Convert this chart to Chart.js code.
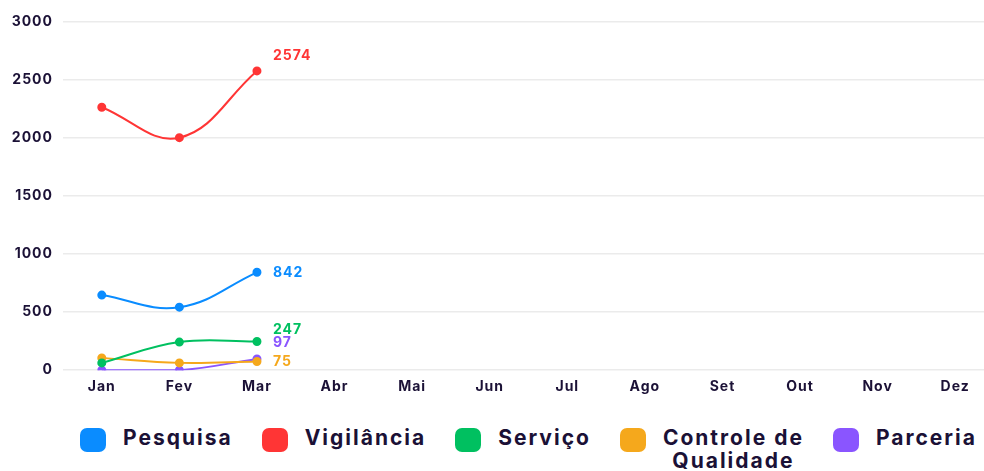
<!DOCTYPE html>
<html>
<head>
<meta charset="utf-8">
<script src="https://cdn.jsdelivr.net/npm/chart.js@4/dist/chart.umd.min.js"></script>
<style>
  html, body { margin: 0; padding: 0; background: #fff; overflow: hidden; width: 984px; height: 471px; }
  #wrap { position: absolute; left: 0; top: 3px; width: 1000px; height: 392px; }
  #legend { position: absolute; left: 80px; top: 426px; display: flex; align-items: flex-start;
            font-family: Inter, "Open Sans", sans-serif; font-weight: 700; font-size: 21px; color: #1b1136;
            letter-spacing: 2px; white-space: nowrap; }
  .item { display: flex; align-items: flex-start; margin-right: 29px; flex: none; }
  .box { width: 26px; height: 24px; border-radius: 7px; margin-top: 2px; margin-right: 17px; flex: none; }
  .txt { text-align: center; line-height: 23px; white-space: nowrap; }
</style>
</head>
<body>
<div id="wrap"><canvas id="c"></canvas></div>
<div id="legend"></div>
<script>
const months = ["Jan","Fev","Mar","Abr","Mai","Jun","Jul","Ago","Set","Out","Nov","Dez"];
const seriesNames = ["Pesquisa","Vigilância","Serviço","Controle de Qualidade","Parceria"];
const pesquisa = [646, 542, 842];
const vigilancia = [2262, 2000, 2574];
const servico = [63, 242, 247];
const controle = [106, 63, 75];
const parceria = [0, 0, 97];
const yTicks = [0, 500, 1000, 1500, 2000, 2500, 3000];

const colors = ["#0a8cff", "#ff3535", "#00c060", "#f5a81c", "#8a55ff"];
const labelDy = [0, -15, -12, 0, -16];
const allSeries = [pesquisa, vigilancia, servico, controle, parceria];

const spacingPlugin = {
  id: "spacing",
  beforeUpdate(chart) { chart.ctx.letterSpacing = "1px"; },
  beforeDraw(chart) { chart.ctx.letterSpacing = "1px"; }
};

const lastLabelPlugin = {
  id: "lastLabel",
  afterDatasetsDraw(chart) {
    const ctx = chart.ctx;
    ctx.save();
    ctx.letterSpacing = "1px";
    ctx.font = "700 14px Inter, sans-serif";
    ctx.textBaseline = "middle";
    ctx.textAlign = "left";
    chart.data.datasets.forEach((ds, i) => {
      const meta = chart.getDatasetMeta(i);
      const idx = ds.data.length - 1;
      const pt = meta.data[idx];
      ctx.fillStyle = ds.borderColor;
      ctx.fillText(String(ds.data[idx]), pt.x + 16, pt.y + labelDy[i]);
    });
    ctx.restore();
  }
};

new Chart(document.getElementById("c"), {
  type: "line",
  data: {
    labels: months,
    datasets: allSeries.map((d, i) => ({
      label: seriesNames[i],
      data: d,
      borderColor: colors[i],
      backgroundColor: colors[i],
      pointBackgroundColor: colors[i],
      pointBorderColor: colors[i],
      borderWidth: 2,
      pointRadius: 3.5,
      tension: 0.4,
      fill: false
    }))
  },
  options: {
    responsive: true,
    maintainAspectRatio: false,
    animation: false,
    layout: { padding: { top: 17, right: 1, left: 0, bottom: 0 } },
    plugins: { legend: { display: false }, tooltip: { enabled: false } },
    scales: {
      x: {
        offset: true,
        grid: { display: false },
        border: { display: false },
        ticks: { color: "#1b1136", font: { family: "Inter", weight: "700", size: 14 }, padding: 0 }
      },
      y: {
        min: 0, max: 3000,
        afterBuildTicks(scale) { scale.ticks = yTicks.map(v => ({ value: v })); },
        afterFit(scale) { scale.width = 63; },
        grid: { color: "#ebebeb", drawTicks: false, lineWidth: 1.5 },
        border: { display: false },
        ticks: { color: "#1b1136", font: { family: "Inter", weight: "700", size: 14 }, padding: 10,
                 callback: (v) => String(v) }
      }
    }
  },
  plugins: [spacingPlugin, lastLabelPlugin]
});

const leg = document.getElementById("legend");
seriesNames.forEach((n, i) => {
  const it = document.createElement("div");
  it.className = "item";
  const b = document.createElement("div");
  b.className = "box";
  b.style.background = colors[i];
  const t = document.createElement("div");
  t.className = "txt";
  if (n === "Controle de Qualidade") { t.innerHTML = "Controle de<br>Qualidade"; } else { t.textContent = n; }
  it.appendChild(b); it.appendChild(t);
  leg.appendChild(it);
});
</script>
</body>
</html>
